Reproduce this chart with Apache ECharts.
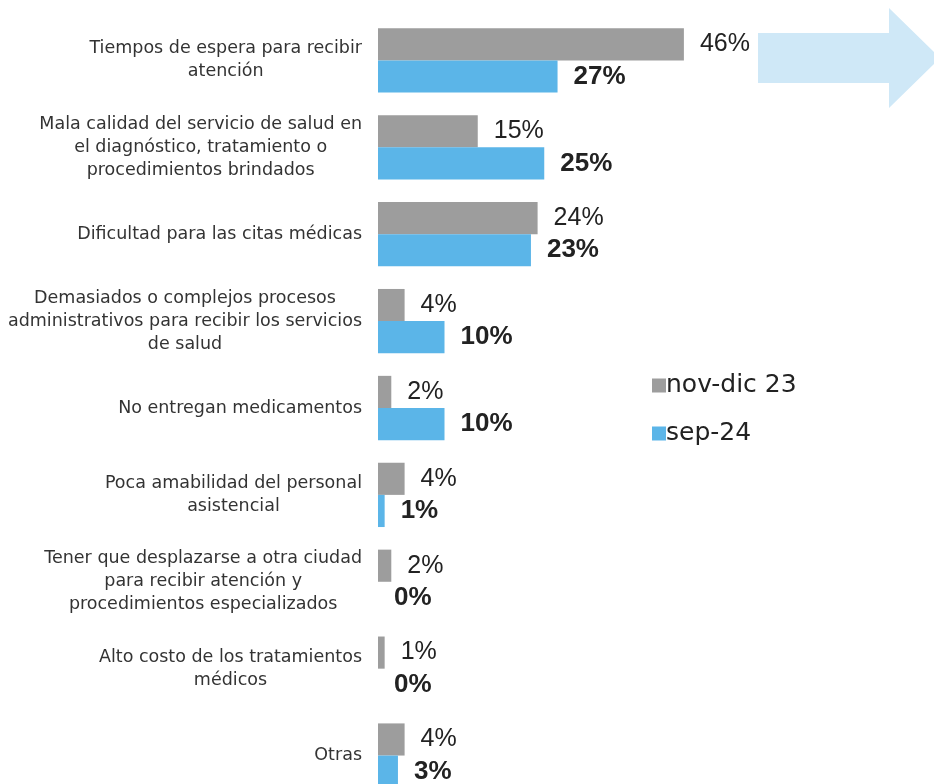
<!DOCTYPE html>
<html><head><meta charset="utf-8">
<script src="https://cdn.jsdelivr.net/npm/echarts@6/dist/echarts.min.js"></script>
<style>html,body{margin:0;padding:0;background:#fff;overflow:hidden}#c{width:934px;height:800px}</style>
</head><body><div id="c"></div>
<script>
const categories = [
  "Tiempos de espera para recibir\natención",
  "Mala calidad del servicio de salud en\nel diagnóstico, tratamiento o\nprocedimientos brindados",
  "Dificultad para las citas médicas",
  "Demasiados o complejos procesos\nadministrativos para recibir los servicios\nde salud",
  "No entregan medicamentos",
  "Poca amabilidad del personal\nasistencial",
  "Tener que desplazarse a otra ciudad\npara recibir atención y\nprocedimientos especializados",
  "Alto costo de los tratamientos\nmédicos",
  "Otras"
];
const seriesNames = ["nov-dic 23", "sep-24"];
const novDic23 = [46, 15, 24, 4, 2, 4, 2, 1, 4];
const sep24 = [27, 25, 23, 10, 10, 1, 0, 0, 3];

const chart = echarts.init(document.getElementById('c'));
const valFont = 'Liberation Sans';
chart.setOption({
  animation: false,
  grid: { left: 378, top: 17, width: 399, height: 782, containLabel: false, outerBoundsMode: 'none' },
  legend: {
    orient: 'vertical', left: 647, top: 368, itemGap: 23,
    itemWidth: 14, itemHeight: 14, icon: 'rect',
    textStyle: { fontSize: 25, color: '#222', fontFamily: 'DejaVu Sans', padding: [0, 0, 0, -5] },
    data: seriesNames
  },
  xAxis: { type: 'value', min: 0, max: 60, show: false },
  yAxis: {
    type: 'category', inverse: true, data: categories,
    axisLine: { show: false }, axisTick: { show: false },
    axisLabel: {
      margin: 16, align: 'right',
      formatter: function (v) {
        return v.split('\n').map(l => '{c|' + l + '}').join('\n');
      },
      rich: { c: { align: 'center', fontSize: 17.5, lineHeight: 23, color: '#333', fontFamily: 'DejaVu Sans' } }
    }
  },
  graphic: [{
    type: 'polygon',
    shape: { points: [[758,33],[889,33],[889,8],[940,58],[889,108],[889,83],[758,83]] },
    style: { fill: '#cfe8f7' }, z: 0
  }],
  series: [
    {
      name: seriesNames[0], type: 'bar', data: novDic23, barGap: '0%', barCategoryGap: '26%',
      itemStyle: { color: '#9d9d9d' },
      label: { show: true, position: 'right', distance: 16, formatter: '{c}%',
        fontSize: 25, color: '#222', fontFamily: valFont, fontWeight: 'normal' }
    },
    {
      name: seriesNames[1], type: 'bar', data: sep24, barGap: '0%', barCategoryGap: '26%',
      itemStyle: { color: '#5bb5e8' },
      label: { show: true, position: 'right', distance: 16, formatter: '{c}%',
        fontSize: 26, color: '#222', fontFamily: valFont, fontWeight: 'bold' }
    }
  ]
});
</script></body></html>
